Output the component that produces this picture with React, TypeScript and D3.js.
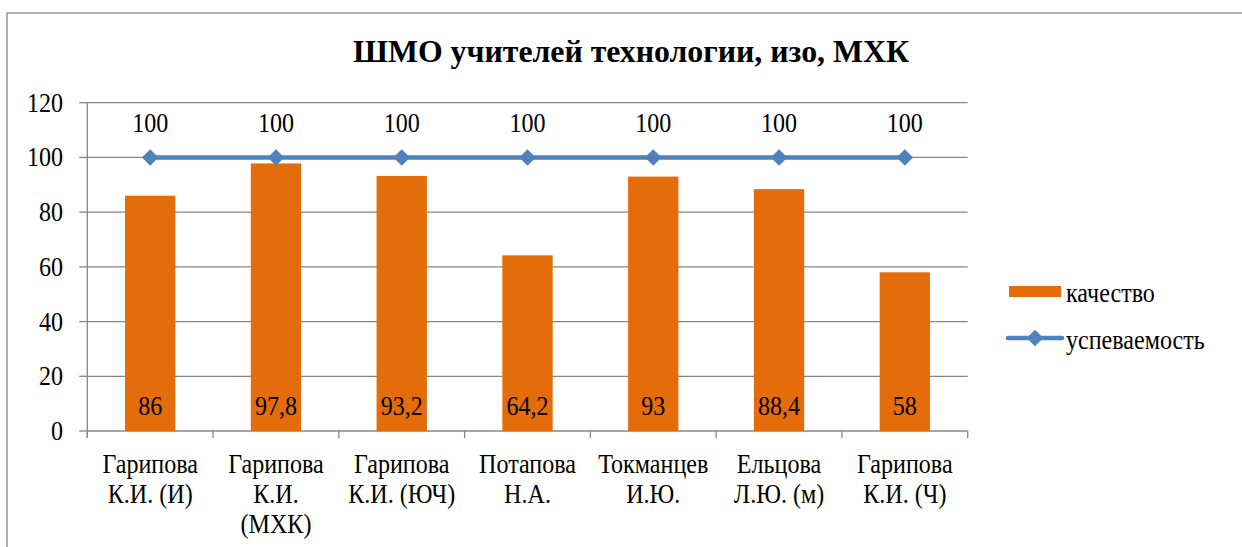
import React from "react";
import * as d3 from "d3";

const categories = [
  ["Гарипова", "К.И. (И)"],
  ["Гарипова", "К.И.", "(МХК)"],
  ["Гарипова", "К.И. (ЮЧ)"],
  ["Потапова", "Н.А."],
  ["Токманцев", "И.Ю."],
  ["Ельцова", "Л.Ю. (м)"],
  ["Гарипова", "К.И. (Ч)"],
];
const quality = [86, 97.8, 93.2, 64.2, 93, 88.4, 58];
const progress = [100, 100, 100, 100, 100, 100, 100];
const yTicks = [0, 20, 40, 60, 80, 100, 120];

const W = 1242;
const H = 547;
const margin = { top: 102.7, right: 274.3, bottom: 116, left: 87.3 };
const FONT = "serif";
const ORANGE = "#E46C0A";
const BLUE = "#4F81BD";
const GRID = "#868686";

// slightly condensed serif text, as in the source picture
const T = ({ x, y, anchor = "middle", lines }: any) => (
  <g transform={`translate(${x},${y}) scale(0.86,1)`}>
    <text x={0} y={0} textAnchor={anchor} fontSize={28} fontFamily={FONT} fill="#000">
      {lines.map((l: string, j: number) => (
        <tspan key={j} x={0} dy={j === 0 ? 0 : 30}>
          {l}
        </tspan>
      ))}
    </text>
  </g>
);

const App = () => {
  const labels = categories.map((c) => c.join(" "));
  const x = d3
    .scaleBand()
    .domain(labels)
    .range([margin.left, W - margin.right])
    .paddingInner(0.6)
    .paddingOuter(0.3);
  const band = (W - margin.right - margin.left) / labels.length;
  const y = d3
    .scaleLinear()
    .domain([0, 120])
    .range([H - margin.bottom, margin.top]);
  const cx = (i: number) => x(labels[i])! + x.bandwidth() / 2;
  const line = d3
    .line<number>()
    .x((_, i) => cx(i))
    .y((d) => y(d));
  const diamond = d3.symbol().type(d3.symbolDiamond2).size(175)()!;

  return (
    <svg width={W} height={H} fontFamily={FONT} style={{ position: "absolute", left: 0, top: 0, display: "block" }}>
      {/* chart border */}
      <rect x={7} y={13} width={W + 20} height={H + 20} fill="#fff" stroke="#878787" strokeWidth={1.3} />

      <text
        x={353}
        y={62.3}
        fontWeight="bold"
        fontSize={32}
        fontFamily={FONT}
        textLength={556}
        lengthAdjust="spacingAndGlyphs"
      >
        ШМО учителей технологии, изо, МХК
      </text>

      {/* grid */}
      {yTicks
        .filter((t) => t > 0)
        .map((t) => (
          <line key={t} x1={margin.left} x2={W - margin.right} y1={y(t)} y2={y(t)} stroke={GRID} strokeWidth={1.3} />
        ))}

      {/* y axis */}
      <line x1={margin.left} x2={margin.left} y1={y(120)} y2={y(0) + 7} stroke={GRID} strokeWidth={1.3} />
      {yTicks.map((t) => (
        <g key={t}>
          <line x1={margin.left - 8} x2={margin.left} y1={y(t)} y2={y(t)} stroke={GRID} strokeWidth={1.3} />
          <T x={63} y={y(t) + 9} anchor="end" lines={[String(t)]} />
        </g>
      ))}

      {/* x axis */}
      <line x1={margin.left} x2={W - margin.right} y1={y(0)} y2={y(0)} stroke={GRID} strokeWidth={1.3} />
      {d3.range(labels.length + 1).map((i) => (
        <line
          key={i}
          x1={margin.left + i * band}
          x2={margin.left + i * band}
          y1={y(0)}
          y2={y(0) + 7}
          stroke={GRID}
          strokeWidth={1.3}
        />
      ))}
      {categories.map((lines, i) => (
        <T key={i} x={cx(i)} y={473} lines={lines} />
      ))}

      {/* bars */}
      {quality.map((d, i) => (
        <rect key={i} x={x(labels[i])} y={y(d)} width={x.bandwidth()} height={y(0) - y(d)} fill={ORANGE} />
      ))}
      {quality.map((d, i) => (
        <T key={i} x={cx(i)} y={414.5} lines={[String(d).replace(".", ",")]} />
      ))}

      {/* line series */}
      <path d={line(progress)!} fill="none" stroke={BLUE} strokeWidth={4.5} />
      {progress.map((d, i) => (
        <path key={i} d={diamond} transform={`translate(${cx(i)},${y(d)})`} fill={BLUE} />
      ))}
      {progress.map((d, i) => (
        <T key={i} x={cx(i)} y={y(d) - 25.5} lines={[String(d)]} />
      ))}

      {/* legend */}
      <rect x={1009} y={286} width={52} height={11} fill={ORANGE} />
      <T x={1066} y={301.5} anchor="start" lines={["качество"]} />
      <line x1={1008} x2={1062} y1={338} y2={338} stroke={BLUE} strokeWidth={4.5} strokeLinecap="round" />
      <path d={diamond} transform="translate(1035,338)" fill={BLUE} />
      <T x={1066} y={348.5} anchor="start" lines={["успеваемость"]} />
    </svg>
  );
};

export default App;
